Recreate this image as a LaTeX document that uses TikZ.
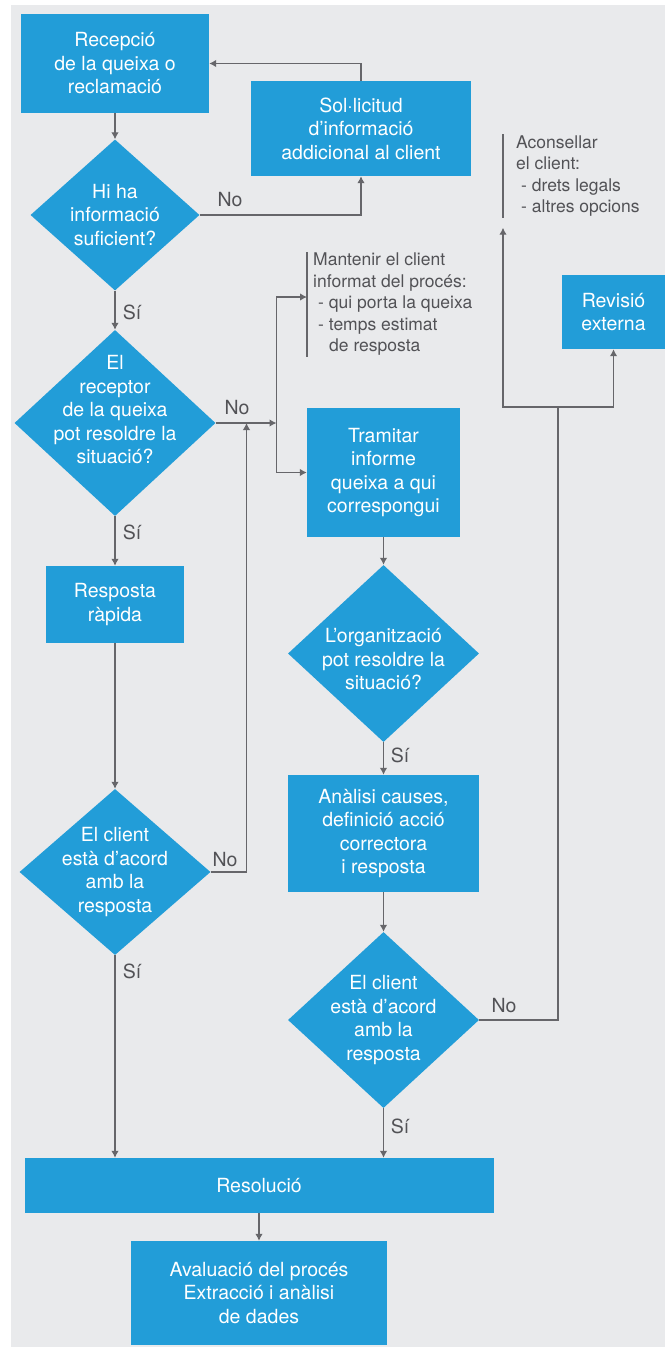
\documentclass[tikz,border=0pt]{standalone}
\usepackage{fontspec}
\setmainfont{TeX Gyre Heros}
\usetikzlibrary{shapes.geometric,arrows.meta}
\definecolor{qblue}{RGB}{34,157,216}
\definecolor{qback}{RGB}{233,234,236}
\definecolor{qline}{RGB}{102,102,106}
\definecolor{qtext}{RGB}{82,82,86}
\tikzset{box/.style={fill=qblue, text=white, align=center, inner sep=0pt,
    font=\fontsize{19.5}{23.5}\selectfont}}
\tikzset{decision/.style={diamond, fill=qblue, inner sep=0pt}}
\tikzset{dtext/.style={text=white, align=center, inner sep=0pt,
    font=\fontsize{19.5}{23.5}\selectfont}}
\tikzset{flow/.style={draw=qline, line width=1.2pt, -{Latex[length=7pt,width=7.5pt]}}}
\tikzset{tag/.style={text=qtext, font=\fontsize{19.5}{23.5}\selectfont}}
\tikzset{note/.style={text=qtext, align=left, anchor=west, inner ysep=1pt,
    font=\fontsize{17.5}{21.5}\selectfont}}
\begin{document}
\begin{tikzpicture}[x=1pt,y=-1pt]
        \useasboundingbox (0,0) rectangle (665,1347);
        % Background
        \fill[qback] (11,5) rectangle (665,1347);
        % Boxes
        \node[box, minimum width=188pt, minimum height=99pt] (rec) 
        at (115,63.5) {Recepció\\de la queixa o\\reclamació};
        \node[box, minimum width=220pt, minimum height=95pt] (sol) 
        at (361,128.5) {Sol·licitud\\d’informació\\addicional al client};
        \node[box, minimum width=153pt, minimum height=129pt] (tram) 
        at (383.5,472.5) {Tramitar\\informe\\queixa a qui\\correspongui};
        \node[box, minimum width=138pt, minimum height=77pt] (resp) 
        at (115,604.5) {Resposta\\ràpida};
        \node[box, minimum width=191pt, minimum height=117pt] (anal) 
        at (383.5,833.5) {Anàlisi causes,\\definició acció\\correctora\\i resposta};
        \node[box, minimum width=103pt, minimum height=74pt] (rev) 
        at (613.5,312) {Revisió\\externa};
        \node[box, minimum width=469pt, minimum height=55pt] (reso) 
        at (259,1185.5) {Resolució};
        \node[box, minimum width=256pt, minimum height=104pt] (aval) 
        at (259,1293) {Avaluació del procés\\Extracció i anàlisi\\de dades};
        % Decisions
        \node[decision, minimum width=169pt, minimum height=151pt,
        label={[dtext]center:{Hi ha\\informació\\suficient?}}] (d1) 
        at (115,215) {};
        \node[decision, minimum width=201pt, minimum height=186pt,
        label={[dtext, yshift=13pt]center:{El\\receptor\\de la queixa\\pot resoldre la\\situació?}}] (d2) 
        at (115,423) {};
        \node[decision, minimum width=191pt, minimum height=177pt,
        label={[dtext, yshift=-6pt]center:{L’organització\\pot resoldre la\\situació?}}] (d3) 
        at (383.5,653.5) {};
        \node[decision, minimum width=191pt, minimum height=176pt,
        label={[dtext]center:{El client\\està d’acord\\amb la\\resposta}}] (d4) 
        at (383.5,1020) {};
        \node[decision, minimum width=191pt, minimum height=166pt,
        label={[dtext]center:{El client\\està d’acord\\amb la\\resposta}}] (d5) 
        at (115,872) {};
        % Notes
        \node[note, inner xsep=6pt] (mant) at (307,304.5) 
        {Mantenir el client\\informat del procés:\\
        \hspace*{5pt}- qui porta la queixa\\\hspace*{5pt}- temps estimat\\
        \hspace*{16pt}de resposta};
        \node[note, inner xsep=13pt] (acon) at (503,176) 
        {Aconsellar\\el client:\\\hspace*{5pt}- drets legals\\
        \hspace*{5pt}- altres opcions};
        \draw[qline, line width=1.2pt] (mant.north west) -- (mant.south west);
        \draw[qline, line width=1.2pt] (acon.north west) -- (acon.south west);
        % Junctions
        \coordinate (j1) at (276.5,423);
        \coordinate (j2) at (246.5,423);
        \coordinate (j3) at (558,407);
        % Connectors
        \draw[flow] (rec.south) -- (d1.north);
        \draw[flow] (d1.east) -| (sol.south);
        \draw[flow] (sol.north) |- (rec.east);
        \draw[flow] (d1.south) -- (d2.north);
        \draw[flow] (d2.east) -- (j1);
        \draw[flow] (j1) |- ([yshift=7.5pt]mant.west);
        \draw[flow] (j1) |- (tram.west);
        \draw[flow] (d2.south) -- (resp.north);
        \draw[flow] (resp.south) -- (d5.north);
        \draw[flow] (d5.east) -| (j2);
        \draw[flow] (d5.south) -- (d5.south |- reso.north);
        \draw[flow] (tram.south) -- (d3.north);
        \draw[flow] (d3.south) -- (anal.north);
        \draw[flow] (anal.south) -- (d4.north);
        \draw[flow] (d4.south) -- (d4.south |- reso.north);
        \draw[draw=qline, line width=1.2pt] (d4.east) -| (j3);
        \draw[flow] (j3) -| ([yshift=-10pt]acon.south west);
        \draw[flow] (j3) -| (rev.south);
        \draw[flow] (reso.south) -- (aval.north);
        % Yes / no labels
        \node[tag] (no1) at (230,200) {No};
        \node[tag] (si1) at (132,312) {Sí};
        \node[tag] (no2) at (237,408) {No};
        \node[tag] (si2) at (132,532) {Sí};
        \node[tag] (no3) at (225,860) {No};
        \node[tag] (si3) at (132,971) {Sí};
        \node[tag] (si4) at (400,755) {Sí};
        \node[tag] (no4) at (504,1006) {No};
        \node[tag] (si5) at (400,1126) {Sí};
    \end{tikzpicture}
\end{document}
